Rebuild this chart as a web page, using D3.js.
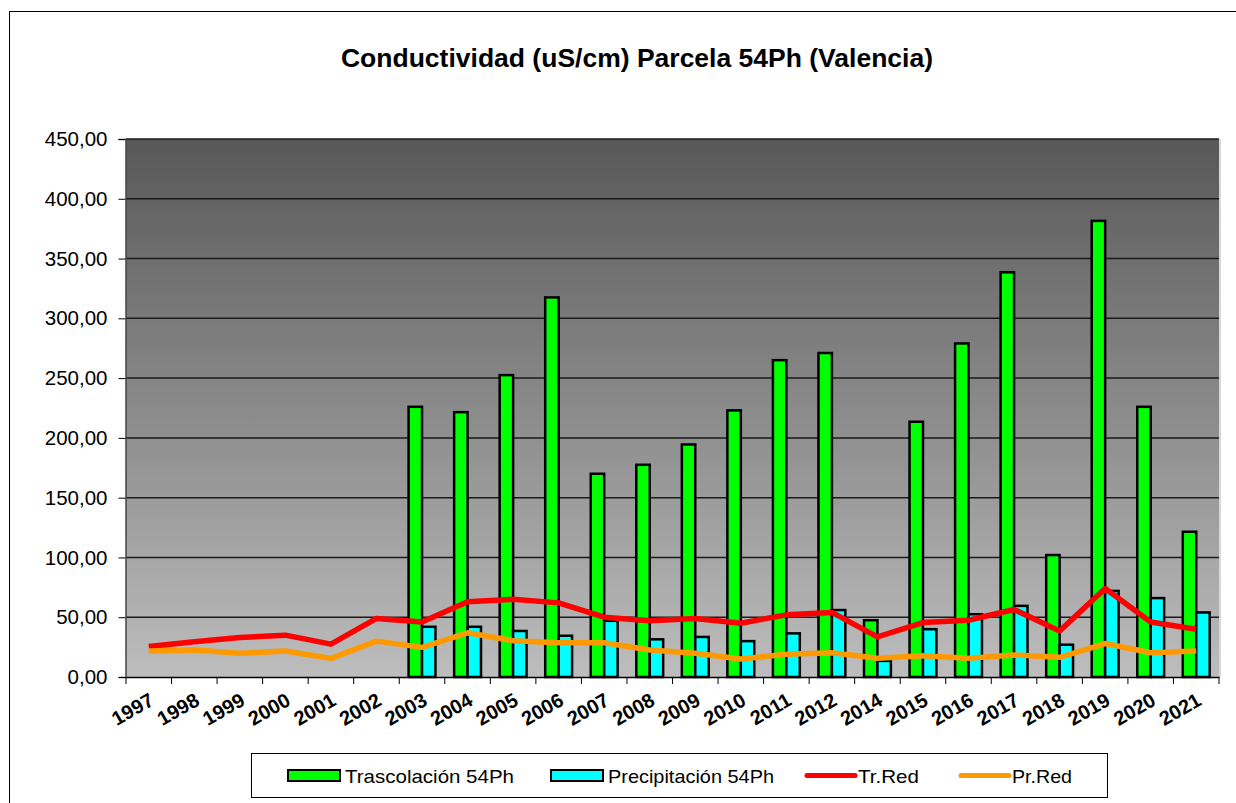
<!DOCTYPE html>
<html>
<head>
<meta charset="utf-8">
<script src="https://cdn.jsdelivr.net/npm/d3@7"></script>
<style>
  body { margin: 0; background: #fff; }
  svg { display: block; font-family: Arial, "Liberation Sans", sans-serif; }
</style>
</head>
<body>
<div id="chart"></div>
<script>
// data
const years = ["1997","1998","1999","2000","2001","2002","2003","2004","2005","2006","2007","2008",
  "2009","2010","2011","2012","2014","2015","2016","2017","2018","2019","2020","2021"];
const trascolacion = [null,null,null,null,null,null,226,221.5,252.5,317.5,170,177.5,
  194.5,223,265,271,47.5,213.5,279,338.5,102,381.5,226,121.5];
const precipitacion = [null,null,null,null,null,null,42,42,38.5,34.5,47,31.5,
  33.5,30,36.5,56,13.5,40,52.5,59.5,27,72,66,54];
const trRed = [25.5,29.5,33,35,27.5,49,46,63,65,62,50,47,49,45,52,54,33.5,45.5,47.5,56.5,38.5,74,46,40];
const prRed = [21.7,22.5,19.8,21.7,15.6,30,24.8,37,30.4,28.7,28.7,22.6,19.8,15,19,20.3,15.6,17.8,15.6,18.4,16.5,28,20.3,21.7];
const yTicks = [0,50,100,150,200,250,300,350,400,450];

const W = 1236, H = 803;
const plot = {left: 126, top: 139, right: 1219, bottom: 677};

const svg = d3.select("#chart").append("svg")
  .attr("width", W).attr("height", H);

// outer chart border
svg.append("rect")
  .attr("x", 9.5).attr("y", 11.5)
  .attr("width", 1240).attr("height", 800)
  .attr("fill", "#fff").attr("stroke", "#000").attr("stroke-width", 1);

// title
svg.append("text")
  .attr("x", 637).attr("y", 67)
  .attr("text-anchor", "middle")
  .style("font-size", "26.5px").style("font-weight", "bold")
  .text("Conductividad (uS/cm) Parcela 54Ph (Valencia)");

// background gradient
const grad = svg.append("defs").append("linearGradient")
  .attr("id", "bg").attr("x1", 0).attr("y1", 0).attr("x2", 0).attr("y2", 1);
grad.append("stop").attr("offset", "0%").attr("stop-color", "#585858");
grad.append("stop").attr("offset", "100%").attr("stop-color", "#bdbdbd");

svg.append("rect")
  .attr("x", plot.left).attr("y", plot.top)
  .attr("width", plot.right - plot.left).attr("height", plot.bottom - plot.top)
  .attr("fill", "url(#bg)");
// faint light edge on the right of the plot area
svg.append("line")
  .attr("x1", plot.right + 1).attr("x2", plot.right + 1)
  .attr("y1", plot.top).attr("y2", plot.bottom)
  .attr("stroke", "#d8d8d8").attr("stroke-width", 2);

const x = d3.scaleBand().domain(years).range([plot.left, plot.right]);
const y = d3.scaleLinear().domain([0, 450]).range([plot.bottom, plot.top]);

const groupW = x.bandwidth() * 0.59;
const x1 = d3.scaleBand().domain(["tr", "pr"]).range([0, groupW]);
const off = (x.bandwidth() - groupW) / 2;

// gridlines
svg.append("g")
  .selectAll("line")
  .data(yTicks.filter(d => d > 0))
  .join("line")
  .attr("x1", plot.left).attr("x2", plot.right)
  .attr("y1", d => y(d)).attr("y2", d => y(d))
  .attr("stroke", "#1a1a1a").attr("stroke-width", 1.5);

// y axis
const yAxis = svg.append("g")
  .attr("transform", `translate(${plot.left - 0.5},0)`)
  .call(d3.axisLeft(y).tickValues(yTicks).tickSizeOuter(0).tickSize(7).tickPadding(11)
    .tickFormat(d => d3.format(".2f")(d).replace(".", ",")));
yAxis.select(".domain").attr("stroke", "#444").attr("stroke-width", 1.5);
yAxis.selectAll(".tick line").attr("stroke", "#000");
yAxis.selectAll("text").style("font-size", "20.5px").attr("fill", "#000");

// x axis
const xAxis = svg.append("g")
  .attr("transform", `translate(0,${plot.bottom})`)
  .call(d3.axisBottom(x).tickSize(0).tickSizeOuter(0).tickFormat(""));
xAxis.select(".domain").attr("stroke", "#000").attr("stroke-width", 1.5);
svg.append("g")
  .selectAll("line")
  .data(years.concat(["end"]))
  .join("line")
  .attr("x1", (d, i) => plot.left + i * x.step())
  .attr("x2", (d, i) => plot.left + i * x.step())
  .attr("y1", plot.bottom).attr("y2", plot.bottom + 7)
  .attr("stroke", "#000").attr("stroke-width", 1);

svg.append("g")
  .selectAll("text")
  .data(years)
  .join("text")
  .attr("transform", d => `translate(${x(d) + x.bandwidth() / 2 + 3},${plot.bottom + 21}) rotate(-30)`)
  .attr("text-anchor", "end")
  .attr("dy", "0.35em")
  .style("font-size", "20px").style("font-weight", "bold")
  .text(d => d);

// bars
const barData = [];
years.forEach((yr, i) => {
  if (trascolacion[i] != null) barData.push({yr: yr, key: "tr", v: trascolacion[i]});
  if (precipitacion[i] != null) barData.push({yr: yr, key: "pr", v: precipitacion[i]});
});
const barColor = {tr: "#00ff00", pr: "#00ffff"};

svg.append("g")
  .selectAll("rect")
  .data(barData)
  .join("rect")
  .attr("x", d => x(d.yr) + off + x1(d.key))
  .attr("y", d => y(d.v))
  .attr("width", x1.bandwidth())
  .attr("height", d => y(0) - y(d.v))
  .attr("fill", d => barColor[d.key])
  .attr("stroke", "#000").attr("stroke-width", 2.5);

// lines
const line = d3.line()
  .x((d, i) => x(years[i]) + x.bandwidth() / 2)
  .y(d => y(d));

svg.append("path")
  .datum(trRed)
  .attr("d", line)
  .attr("fill", "none").attr("stroke", "#ff0000").attr("stroke-width", 5.5)
  .attr("stroke-linejoin", "round");

svg.append("path")
  .datum(prRed)
  .attr("d", line)
  .attr("fill", "none").attr("stroke", "#ff9900").attr("stroke-width", 5.5)
  .attr("stroke-linejoin", "round");

// legend
const lg = svg.append("g");
lg.append("rect")
  .attr("x", 251.5).attr("y", 753.5).attr("width", 856).attr("height", 44)
  .attr("fill", "#fff").attr("stroke", "#000").attr("stroke-width", 1);

const legendItems = [
  {label: "Trascolación  54Ph", type: "bar", color: "#00ff00", x: 288, w: 169},
  {label: "Precipitación 54Ph", type: "bar", color: "#00ffff", x: 551, w: 166},
  {label: "Tr.Red", type: "line", color: "#ff0000", x: 807, w: 61},
  {label: "Pr.Red", type: "line", color: "#ff9900", x: 961, w: 60}
];
legendItems.forEach(it => {
  if (it.type == "bar") {
    lg.append("rect")
      .attr("x", it.x).attr("y", 770).attr("width", 52).attr("height", 11)
      .attr("fill", it.color).attr("stroke", "#000").attr("stroke-width", 2);
  } else {
    lg.append("line")
      .attr("x1", it.x).attr("x2", it.x + 48)
      .attr("y1", 775.5).attr("y2", 775.5)
      .attr("stroke", it.color).attr("stroke-width", 5).attr("stroke-linecap", "round");
  }
  lg.append("text")
    .attr("x", it.x + (it.type == "bar" ? 57 : 51)).attr("y", 776)
    .attr("dy", "0.35em")
    .attr("textLength", it.w).attr("lengthAdjust", "spacingAndGlyphs")
    .style("font-size", "19px")
    .text(it.label);
});
</script>
</body>
</html>
